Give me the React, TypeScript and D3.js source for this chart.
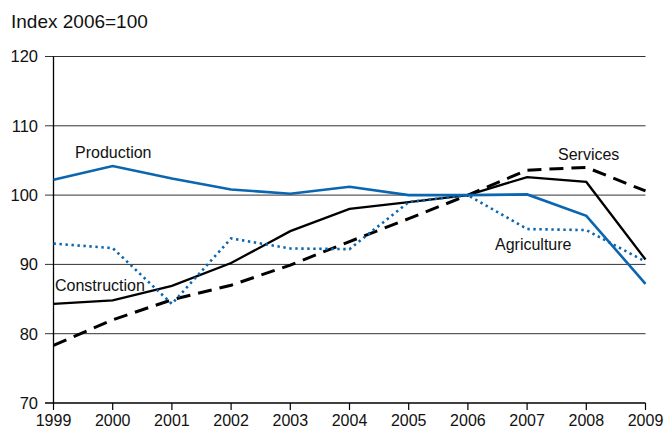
import React from "react";
import * as d3 from "d3";

const years = [1999, 2000, 2001, 2002, 2003, 2004, 2005, 2006, 2007, 2008, 2009];
const production = [102.2, 104.2, 102.4, 100.8, 100.2, 101.2, 100.0, 100.0, 100.1, 97.0, 87.2];
const agriculture = [93.0, 92.35, 84.3, 93.75, 92.3, 92.2, 99.0, 100.0, 95.1, 94.95, 90.4];
const construction = [84.3, 84.8, 86.9, 90.2, 94.8, 98.0, 99.0, 100.0, 102.6, 101.9, 90.7];
const services = [78.3, 82.0, 84.9, 87.0, 89.9, 93.3, 96.6, 100.0, 103.6, 104.0, 100.6];
const yTicks = [70, 80, 90, 100, 110, 120];

const BLUE = "#0a66b0";
const FONT = "'Liberation Sans', Arial, sans-serif";

export default function App() {
  const W = 664, H = 430;
  const x = d3.scaleLinear().domain([1999, 2009]).range([53.5, 645.5]);
  const y = d3.scaleLinear().domain([70, 120]).range([403, 56.5]);
  const line = (vals: number[]) =>
    d3.line<number>().x((_, i) => x(years[i])).y((v) => y(v))(vals) || "";

  return (
    <svg width={W} height={H} style={{ position: "absolute", left: 0, top: 0 }} fontFamily={FONT}>
      <text x={11} y={28} fontSize={19} fill="#111">Index 2006=100</text>
      {yTicks.map((t) => (
        <g key={t}>
          <line x1={45} x2={x(2009)} y1={y(t)} y2={y(t)} stroke={t === 70 ? "#000" : "#333"} strokeWidth={t === 70 ? 1.3 : 1} />
          <text x={38} y={y(t)} dy="0.36em" textAnchor="end" fontSize={16.5} fill="#111">{t}</text>
        </g>
      ))}
      <line x1={x(1999)} x2={x(1999)} y1={y(120)} y2={y(70)} stroke="#000" strokeWidth={1.3} />
      {years.map((yr) => (
        <g key={yr}>
          <line x1={x(yr)} x2={x(yr)} y1={y(70)} y2={y(70) + 7} stroke="#000" strokeWidth={1.2} />
          <text x={x(yr)} y={426} textAnchor="middle" fontSize={16} fill="#111">{yr}</text>
        </g>
      ))}
      <path d={line(services)} fill="none" stroke="#000" strokeWidth={3} strokeDasharray="14 8" />
      <path d={line(construction)} fill="none" stroke="#000" strokeWidth={2.3} strokeLinejoin="miter" />
      <path d={line(agriculture)} fill="none" stroke={BLUE} strokeWidth={2.6} strokeDasharray="2.4 3.6" />
      <path d={line(production)} fill="none" stroke={BLUE} strokeWidth={2.6} />
      <text x={75} y={158} fontSize={16} fill="#111">Production</text>
      <text x={55} y={291} fontSize={16} fill="#111">Construction</text>
      <text x={558} y={160} fontSize={16} fill="#111">Services</text>
      <text x={495} y={250} fontSize={16} fill="#111">Agriculture</text>
    </svg>
  );
}
